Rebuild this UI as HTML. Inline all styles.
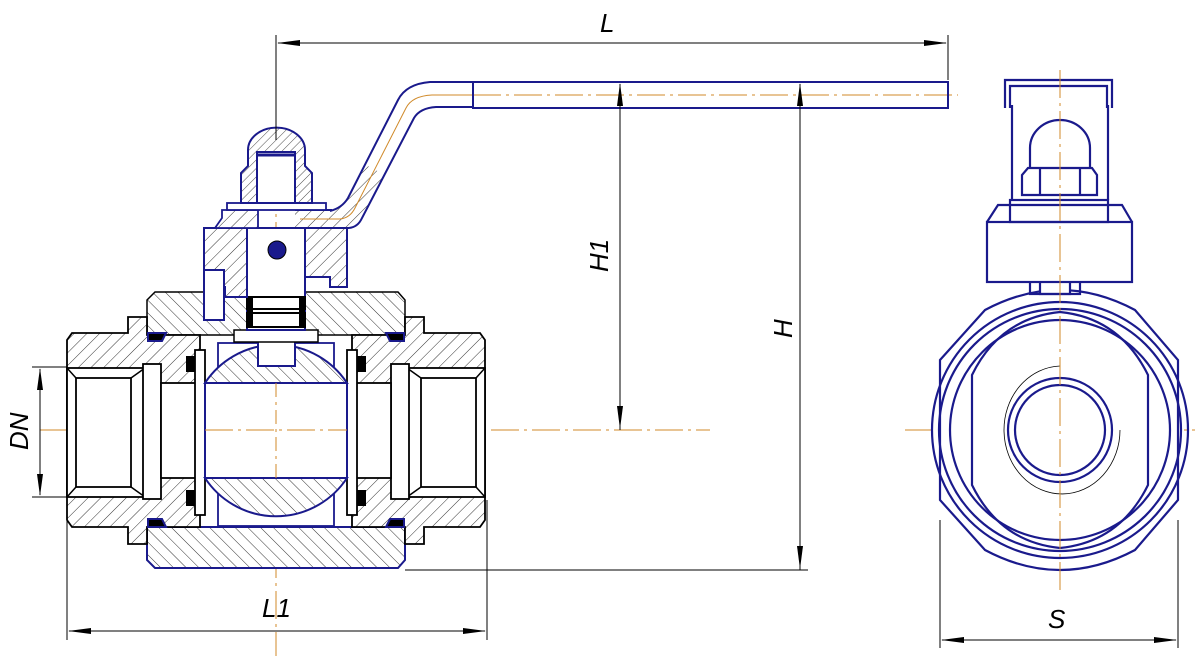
<!DOCTYPE html>
<html><head><meta charset="utf-8"><style>
html,body{margin:0;padding:0;background:#fff;}
svg{display:block;}
text{font-family:"Liberation Sans",sans-serif;font-style:italic;fill:#000;}
</style></head><body>
<svg width="1195" height="656" viewBox="0 0 1195 656" xmlns="http://www.w3.org/2000/svg">
<defs>
<pattern id="hA" patternUnits="userSpaceOnUse" width="9" height="9" patternTransform="rotate(45)">
<rect width="9" height="9" fill="#fff"/><line x1="0" y1="0" x2="0" y2="9" stroke="#000" stroke-width="0.8"/></pattern>
<pattern id="hB" patternUnits="userSpaceOnUse" width="9" height="9" patternTransform="rotate(-45)">
<rect width="9" height="9" fill="#fff"/><line x1="0" y1="0" x2="0" y2="9" stroke="#000" stroke-width="0.8"/></pattern>
<pattern id="hS" patternUnits="userSpaceOnUse" width="6" height="6" patternTransform="rotate(45)">
<rect width="6" height="6" fill="#fff"/><line x1="0" y1="0" x2="0" y2="6" stroke="#000" stroke-width="0.7"/></pattern>
</defs>

<g stroke="#d08a2a" stroke-width="1" stroke-dasharray="28,5,3,5" fill="none">
<line x1="40" y1="430" x2="710" y2="430"/>
<line x1="905" y1="430" x2="1195" y2="430"/>
<line x1="276" y1="140" x2="276" y2="656"/>
<line x1="473" y1="95" x2="958" y2="95"/>
</g>

<polygon points="147,300 155,292 398,292 405,300 405,335 147,335" fill="url(#hB)" stroke="#000" stroke-width="1.5"/>
<polygon points="147,527 405,527 405,560 398,568 155,568 147,560" fill="url(#hB)" stroke="#1a1a8c" stroke-width="2"/>

<g>
<polygon points="67,340 72,333 128,333 128,317 147,317 147,335 200,335 200,527 147,527 147,544 128,544 128,527 72,527 67,520" fill="url(#hA)" stroke="#000" stroke-width="1.8"/>
<rect x="67" y="368" width="78" height="129" fill="#fff" stroke="#000" stroke-width="1.8"/>
<rect x="76" y="378" width="55" height="109" fill="#fff" stroke="#000" stroke-width="1.8"/>
<line x1="67" y1="368" x2="76" y2="378" stroke="#000" stroke-width="1.5"/>
<line x1="131" y1="378" x2="145" y2="368" stroke="#000" stroke-width="1.5"/>
<line x1="67" y1="497" x2="76" y2="487" stroke="#000" stroke-width="1.5"/>
<line x1="131" y1="487" x2="145" y2="497" stroke="#000" stroke-width="1.5"/>
<rect x="143" y="364" width="18" height="135" fill="#fff" stroke="#000" stroke-width="1.8"/>
<rect x="161" y="383" width="36" height="95" fill="#fff" stroke="#000" stroke-width="1.8"/>
<rect x="195" y="350" width="10" height="165" fill="#fff" stroke="#000" stroke-width="1.8"/>
<rect x="186" y="356" width="9" height="16" fill="#000"/>
<rect x="186" y="490" width="9" height="16" fill="#000"/>
<path d="M148,333 h18 l-4,8 h-14z" fill="#000" stroke="#1a1a8c" stroke-width="2"/>
<path d="M148,527 h18 l-4,-8 h-14z" fill="#000" stroke="#1a1a8c" stroke-width="2"/>
</g>
<g transform="translate(552,0) scale(-1,1)">
<polygon points="67,340 72,333 128,333 128,317 147,317 147,335 200,335 200,527 147,527 147,544 128,544 128,527 72,527 67,520" fill="url(#hB)" stroke="#000" stroke-width="1.8"/>
<rect x="67" y="368" width="78" height="129" fill="#fff" stroke="#000" stroke-width="1.8"/>
<rect x="76" y="378" width="55" height="109" fill="#fff" stroke="#000" stroke-width="1.8"/>
<line x1="67" y1="368" x2="76" y2="378" stroke="#000" stroke-width="1.5"/>
<line x1="131" y1="378" x2="145" y2="368" stroke="#000" stroke-width="1.5"/>
<line x1="67" y1="497" x2="76" y2="487" stroke="#000" stroke-width="1.5"/>
<line x1="131" y1="487" x2="145" y2="497" stroke="#000" stroke-width="1.5"/>
<rect x="143" y="364" width="18" height="135" fill="#fff" stroke="#000" stroke-width="1.8"/>
<rect x="161" y="383" width="36" height="95" fill="#fff" stroke="#000" stroke-width="1.8"/>
<rect x="195" y="350" width="10" height="165" fill="#fff" stroke="#000" stroke-width="1.8"/>
<rect x="186" y="356" width="9" height="16" fill="#000"/>
<rect x="186" y="490" width="9" height="16" fill="#000"/>
<path d="M148,333 h18 l-4,8 h-14z" fill="#000" stroke="#1a1a8c" stroke-width="2"/>
<path d="M148,527 h18 l-4,-8 h-14z" fill="#000" stroke="#1a1a8c" stroke-width="2"/>
</g>

<rect x="218" y="343" width="116" height="183" fill="#fff" stroke="#1a1a8c" stroke-width="1.8"/>
<path d="M205,383 A85,85 0 0 1 347,383 Z" fill="url(#hB)" stroke="#1a1a8c" stroke-width="2"/>
<path d="M205,478 A85,85 0 0 0 347,478 Z" fill="url(#hB)" stroke="#1a1a8c" stroke-width="2"/>
<rect x="205" y="383" width="142" height="95" fill="#fff" stroke="#1a1a8c" stroke-width="2"/>
<line x1="276" y1="383" x2="276" y2="478" stroke="#d08a2a" stroke-dasharray="14,5,3,5"/>
<line x1="205" y1="430" x2="347" y2="430" stroke="#d08a2a" stroke-dasharray="28,5,3,5"/>

<rect x="258" y="340" width="37" height="26" fill="#fff" stroke="#1a1a8c" stroke-width="2"/>
<rect x="234" y="330" width="84" height="12" fill="#fff" stroke="#000" stroke-width="1.5"/>
<rect x="247" y="228" width="58" height="102" fill="#fff" stroke="#1a1a8c" stroke-width="2"/>
<rect x="247" y="297" width="58" height="12" fill="#fff" stroke="#000" stroke-width="2"/>
<rect x="247" y="313" width="58" height="14" fill="#fff" stroke="#000" stroke-width="2"/>
<rect x="247" y="297" width="6" height="30" fill="#000"/>
<rect x="299" y="297" width="6" height="30" fill="#000"/>
<circle cx="277" cy="250" r="9" fill="#1a1a8c" stroke="#000"/>

<path d="M204,228 H247 V297 H225 V287 H204 Z" fill="url(#hA)" stroke="#1a1a8c" stroke-width="2"/>
<path d="M305,228 H347 V287 H330 V277 H305 Z" fill="url(#hA)" stroke="#1a1a8c" stroke-width="2"/>
<rect x="204" y="270" width="20" height="50" fill="#fff" stroke="#1a1a8c" stroke-width="2"/>
<path d="M215,228 L222,218 V210 H258 V228 Z" fill="url(#hA)" stroke="#1a1a8c" stroke-width="1.8"/>
<path d="M295,210 H332 Q342,208 348,198 L366,165 L385,175 L362,218 Q358,227 349,228 H295 Z" fill="url(#hA)" stroke="none"/>
<line x1="295" y1="210" x2="332" y2="210" stroke="#1a1a8c" stroke-width="2"/>
<line x1="295" y1="228" x2="349" y2="228" stroke="#1a1a8c" stroke-width="2"/>
<rect x="227" y="203" width="99" height="7" fill="#fff" stroke="#1a1a8c" stroke-width="1.8"/>
<path d="M241,203 V173 L248,166 V150 A28,22 0 0 1 305,150 V166 L312,173 V203 Z" fill="url(#hS)" stroke="#1a1a8c" stroke-width="2"/>
<rect x="257" y="152" width="38" height="51" fill="#fff" stroke="#1a1a8c" stroke-width="2"/>
<line x1="257" y1="155" x2="295" y2="155" stroke="#1a1a8c" stroke-width="3"/>

<path d="M330,211 Q342,208 348,198 L398,100 Q406,84 430,82 H473" fill="none" stroke="#1a1a8c" stroke-width="2"/>
<path d="M349,228 Q358,227 362,218 L414,118 Q420,108 436,107 H473" fill="none" stroke="#1a1a8c" stroke-width="2"/>
<path d="M300,219 H340 Q350,218 355,208 L406,108 Q412,96 432,95 H473" fill="none" stroke="#d08a2a" stroke-width="1"/>
<rect x="473" y="82" width="475" height="26" fill="none" stroke="#1a1a8c" stroke-width="2"/>

<g stroke="#000" stroke-width="1" fill="none">
<line x1="276" y1="35" x2="276" y2="140"/>
<line x1="948" y1="35" x2="948" y2="80"/>
<line x1="278" y1="43" x2="946" y2="43"/>
<line x1="620" y1="84" x2="620" y2="430"/>
<line x1="800" y1="84" x2="800" y2="570"/>
<line x1="405" y1="570" x2="808" y2="570"/>
<line x1="32" y1="367" x2="67" y2="367"/>
<line x1="32" y1="497" x2="67" y2="497"/>
<line x1="40" y1="369" x2="40" y2="495"/>
<line x1="67" y1="500" x2="67" y2="640"/>
<line x1="487" y1="500" x2="487" y2="640"/>
<line x1="69" y1="631" x2="485" y2="631"/>
<line x1="940" y1="520" x2="940" y2="648"/>
<line x1="1178" y1="520" x2="1178" y2="648"/>
<line x1="942" y1="640" x2="1176" y2="640"/>
</g>
<g fill="#000">
<polygon points="277,43 300,40 300,46"/><polygon points="947,43 924,40 924,46"/>
<polygon points="620,83 617,106 623,106"/><polygon points="620,429 617,406 623,406"/>
<polygon points="800,83 797,106 803,106"/><polygon points="800,569 797,546 803,546"/>
<polygon points="40,368 37,390 43,390"/><polygon points="40,496 37,474 43,474"/>
<polygon points="68,631 91,628 91,634"/><polygon points="486,631 463,628 463,634"/>
<polygon points="941,640 964,637 964,643"/><polygon points="1177,640 1154,637 1154,643"/>
</g>
<text x="600" y="32" font-size="26">L</text>
<text x="262" y="617" font-size="26">L1</text>
<text x="1048" y="628" font-size="26">S</text>
<text transform="translate(608,272) rotate(-90)" font-size="26">H1</text>
<text transform="translate(792,338) rotate(-90)" font-size="26">H</text>
<text transform="translate(28,450) rotate(-90)" font-size="26">DN</text>

<g stroke="#1a1a8c" stroke-width="2.2" fill="none">
<path d="M940,360 L985,310 Q1060,270 1135,310 L1178,360 V500 L1135,550 Q1060,590 985,550 L940,500 Z" fill="#fff"/>
<circle cx="1060" cy="430" r="128"/>
<circle cx="1060" cy="430" r="121"/>
<path d="M972,375 Q1000,318 1060,312 Q1120,318 1148,375 V485 Q1120,542 1060,548 Q1000,542 972,485 Z"/>
<circle cx="1060" cy="430" r="110"/>
<circle cx="1060" cy="430" r="52"/>
<circle cx="1060" cy="430" r="45"/>
<rect x="1040" y="272" width="30" height="22" fill="#fff"/>
<rect x="1030" y="272" width="50" height="22"/>
<rect x="987" y="222" width="145" height="60" fill="#fff"/>
<path d="M987,222 L998,205 H1122 L1132,222"/>
<rect x="1010" y="200" width="98" height="22"/>
<path d="M1012,200 V105 M1108,200 V105"/>
<path d="M1005,108 V80 H1112 V108 M1010,108 V86 H1107 V108"/>
<path d="M1022,195 V175 L1028,168 H1092 L1097,175 V195 Z"/>
<path d="M1040,168 V195 M1080,168 V195"/>
<path d="M1030,168 V148 A30,28 0 0 1 1090,148 V168"/>
</g>
<path d="M1060,366 A58,64 0 1 0 1120,430" fill="none" stroke="#000" stroke-width="0.8"/>
<line x1="1060" y1="70" x2="1060" y2="590" stroke="#d08a2a" stroke-width="1" stroke-dasharray="28,5,3,5"/>
</svg>
</body></html>
